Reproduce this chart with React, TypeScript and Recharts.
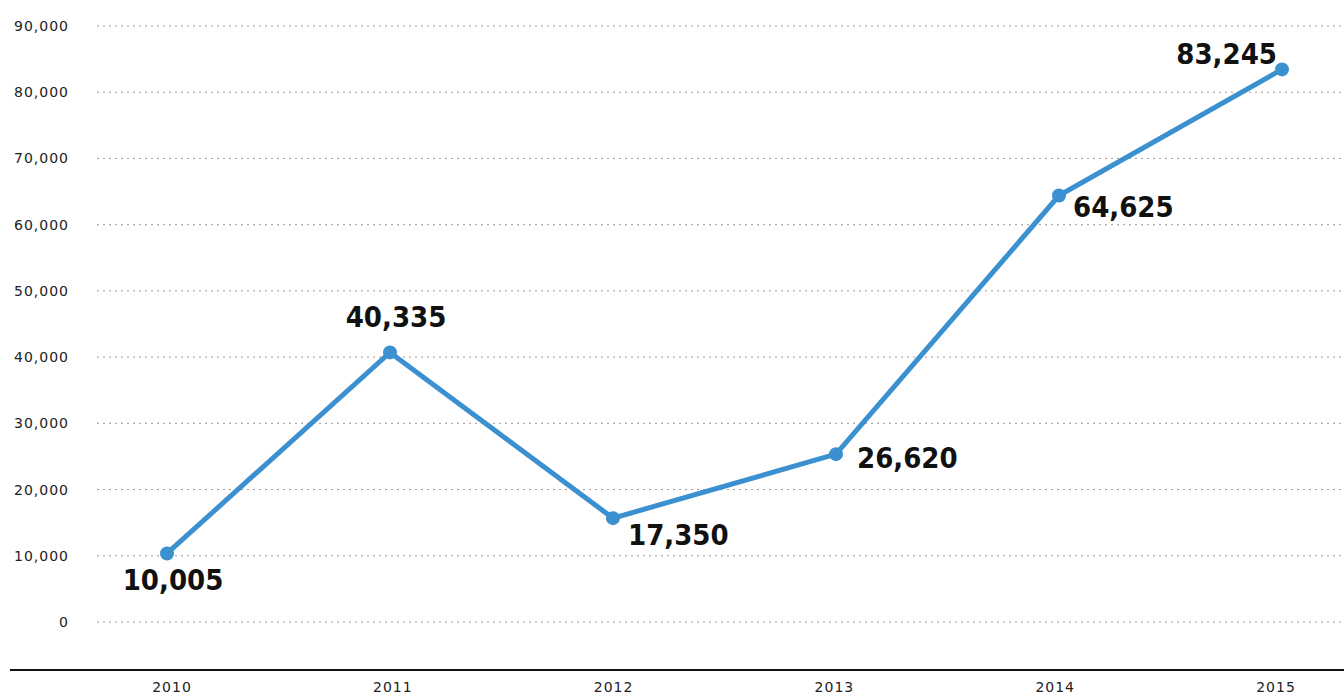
import React from "react";
import { LineChart, Line, XAxis, YAxis, CartesianGrid } from "recharts";

const years = ["2010", "2011", "2012", "2013", "2014", "2015"];
const plottedValues = [10350, 40710, 15680, 25350, 64400, 83450];
const labelTexts = ["10,005", "40,335", "17,350", "26,620", "64,625", "83,245"];
const yTicks = [0, 10000, 20000, 30000, 40000, 50000, 60000, 70000, 80000, 90000];

const data = years.map((year, i) => ({ year, value: plottedValues[i], label: labelTexts[i] }));

const LABEL_PLACEMENT: { anchor: "start" | "middle" | "end"; dx: number; dy: number }[] = [
  { anchor: "middle", dx: 6, dy: 37 },
  { anchor: "middle", dx: 6, dy: -25 },
  { anchor: "start", dx: 15, dy: 27 },
  { anchor: "start", dx: 21, dy: 14 },
  { anchor: "start", dx: 14, dy: 21 },
  { anchor: "end", dx: -5, dy: -5 },
];

const LINE_COLOR = "#3b91d0";

const renderLabel = (props: any) => {
  const { x, y, index } = props;
  const p = LABEL_PLACEMENT[index];
  return (
    <text
      x={x + p.dx}
      y={y + p.dy}
      textAnchor={p.anchor}
      fontFamily="'DejaVu Sans Condensed', 'DejaVu Sans', sans-serif"
      fontWeight="bold"
      fontSize={29}
      fill="#111"
    >
      {labelTexts[index]}
    </text>
  );
};

const tickStyle = {
  fontFamily: "'DejaVu Sans', sans-serif",
  fontSize: 14,
  fill: "#222",
  letterSpacing: 1,
};

export default function App() {
  return (
    <div style={{ width: 1344, height: 696, position: "relative", overflow: "hidden", background: "#fff" }}>
      <style>{`html, body { margin: 0; padding: 0; overflow: hidden; }`}</style>
      <LineChart width={1344} height={696} data={data} margin={{ top: 26, right: 0, left: 0, bottom: 0 }}>
        <CartesianGrid vertical={false} stroke="#999" strokeDasharray="2 4" />
        <YAxis
          domain={[0, 90000]}
          ticks={yTicks}
          width={97}
          axisLine={false}
          tickLine={false}
          tickSize={0}
          tickMargin={28}
          tick={tickStyle}
          tickFormatter={(v: number) => v.toLocaleString("en-US")}
          interval={0}
        />
        <XAxis
          dataKey="year"
          height={74}
          axisLine={false}
          tickLine={false}
          tickSize={0}
          tickMargin={60}
          tick={tickStyle}
          padding={{ left: 75, right: 68 }}
          interval={0}
        />
        <XAxis xAxisId="data" dataKey="year" hide padding={{ left: 70, right: 62 }} />
        <Line
          xAxisId="data"
          dataKey="value"
          stroke={LINE_COLOR}
          strokeWidth={5}
          dot={{ r: 7, fill: LINE_COLOR, stroke: "none" }}
          activeDot={false}
          isAnimationActive={false}
          label={renderLabel}
        />
      </LineChart>
      <div style={{ position: "absolute", left: 10, top: 669, width: 1334, height: 2, background: "#111" }} />
    </div>
  );
}
